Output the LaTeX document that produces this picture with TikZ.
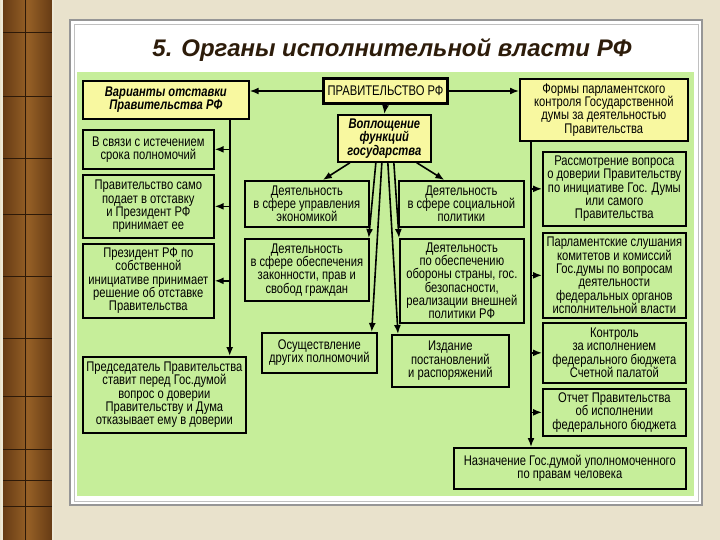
\documentclass[tikz,border=0pt]{standalone}
\usepackage{fontspec}
\setmainfont{Liberation Sans}
\newfontfamily\narrowfont{Liberation Sans}[FakeStretch=0.8]
\usetikzlibrary{calc}
\usetikzlibrary{positioning}
\usetikzlibrary{arrows.meta}
\definecolor{slidebg}{RGB}{233,226,204}
\definecolor{woodbrown}{RGB}{100,58,20}
\definecolor{woodlight}{RGB}{150,96,38}
\definecolor{wooddark}{RGB}{45,25,8}
\definecolor{panelline}{RGB}{150,150,150}
\definecolor{chartgreen}{RGB}{198,238,154}
\definecolor{headyellow}{RGB}{248,248,160}
\definecolor{titlebrown}{RGB}{45,28,10}
\tikzset{
	>={Latex[length=9pt,width=7pt]},
	gbox/.style={
		rectangle,
		draw=black, line width=1.7pt,
		fill=chartgreen,
		align=center,
		inner sep=2pt,
		anchor=north west,
		font=\narrowfont\fontsize{14}{13.3}\selectfont},
	ybox/.style={gbox, fill=headyellow},
	hbox/.style={ybox, font=\narrowfont\bfseries\itshape\fontsize{14}{13.3}\selectfont},
	line/.style={draw, line width=1.6pt, ->},
}
\begin{document}
\begin{tikzpicture}[x=1pt, y=-1pt]
	\useasboundingbox (0,0) rectangle (720,540);
	\fill[slidebg] (0,0) rectangle (720,540);
	% wood strip
	\shade[left color=woodbrown, right color=woodbrown, middle color=woodlight] (2,0) rectangle (53,540);
	\draw[wooddark, line width=1pt] (25,0) -- (25,540);
	\foreach \y in {32,96,158,214,276,338,396,449,480,506}
		\draw[wooddark, line width=0.8pt] (2,\y) -- (53,\y);
	\draw[slidebg!80!white, line width=1.5pt] (2,-1) -- (2,541) (53,-1) -- (53,541);
	% slide panel
	\draw[panelline, line width=1.2pt, fill=white] (70,20) rectangle (702,505);
	\draw[panelline!60, line width=0.6pt] (74,24) rectangle (698,501);
	\fill[chartgreen] (77,72) rectangle (694,496);
	\node[font=\bfseries\itshape\fontsize{24}{24}\selectfont, text=titlebrown] (title) at (392,50) {5. Органы исполнительной власти РФ};

	\node[hbox, minimum width=166pt, minimum height=38pt] (otst) at (82,80) {Варианты отставки\\Правительства РФ};
	\node[ybox, line width=3pt, minimum width=124pt, minimum height=25pt] (prav) at (322,77) {ПРАВИТЕЛЬСТВО РФ};
	\node[ybox, minimum width=168pt, minimum height=62pt] (formy) at (519,78) {Формы парламентского\\контроля Государственной\\думы за деятельностью\\Правительства};
	\node[hbox, minimum width=93pt, minimum height=47pt] (vopl) at (337,114) {Воплощение\\функций\\государства};

	\node[gbox, minimum width=131pt, minimum height=39pt] (srok) at (82,129) {В связи с истечением\\срока полномочий};
	\node[gbox, minimum width=131pt, minimum height=63pt] (sama) at (82,174) {Правительство само\\подает в отставку\\и Президент РФ\\принимает ее};
	\node[gbox, minimum width=131pt, minimum height=74pt] (prez) at (82,243) {Президент РФ по\\собственной\\инициативе принимает\\решение об отставке\\Правительства};
	\node[gbox, minimum width=163pt, minimum height=76pt] (pred) at (82,356) {Председатель Правительства\\ставит перед Гос.думой\\вопрос о доверии\\Правительству и Дума\\отказывает ему в доверии};

	\node[gbox, minimum width=124pt, minimum height=46pt] (econ) at (244,180) {Деятельность\\в сфере управления\\экономикой};
	\node[gbox, minimum width=125pt, minimum height=46pt] (soc) at (398,180) {Деятельность\\в сфере социальной\\политики};
	\node[gbox, minimum width=124pt, minimum height=62pt] (zakon) at (244,238) {Деятельность\\в сфере обеспечения\\законности, прав и\\свобод граждан};
	\node[gbox, minimum width=124pt, minimum height=84pt] (oboron) at (399,238) {Деятельность\\по обеспечению\\обороны страны, гос.\\безопасности,\\реализации внешней\\политики РФ};
	\node[gbox, minimum width=115pt, minimum height=40pt] (osush) at (261,332) {Осуществление\\других полномочий};
	\node[gbox, minimum width=117pt, minimum height=52pt] (izdan) at (391,334) {Издание\\постановлений\\и распоряжений};

	\node[gbox, minimum width=143pt, minimum height=74pt] (rassm) at (542,151) {Рассмотрение вопроса\\о доверии Правительству\\по инициативе Гос. Думы\\или самого\\Правительства};
	\node[gbox, minimum width=143pt, minimum height=85pt] (slush) at (542,232) {Парламентские слушания\\комитетов и комиссий\\Гос.думы по вопросам\\деятельности\\федеральных органов\\исполнительной власти};
	\node[gbox, minimum width=143pt, minimum height=60pt] (kontr) at (542,322) {Контроль\\за исполнением\\федерального бюджета\\Счетной палатой};
	\node[gbox, minimum width=143pt, minimum height=47pt] (otchet) at (542,388) {Отчет Правительства\\об исполнении\\федерального бюджета};
	\node[gbox, minimum width=232pt, minimum height=41pt] (nazn) at (453,447) {Назначение Гос.думой уполномоченного\\по правам человека};

	\draw[line] (prav.west) -- (prav.west -| otst.east);
	\draw[line] (prav.east) -- (prav.east -| formy.west);
	\draw[line] (prav.south) -- (vopl.north);
	\draw[line] ($(vopl.south west)+(13,0)$) -- ($(econ.north)+(16,0)$);
	\draw[line] ($(vopl.south east)+(-15,0)$) -- ($(soc.north)+(-17,0)$);
	\draw[line] ($(vopl.south)+(-8.5,0)$) -- ($(zakon.north east)+(-1,0)$);
	\draw[line] ($(vopl.south)+(-2.5,0)$) -- ($(osush.north east)+(-6,0)$);
	\draw[line] ($(vopl.south)+(3.5,0)$) -- ($(izdan.north west)+(7,0)$);
	\draw[line] ($(vopl.south)+(9.5,0)$) -- ($(oboron.north west)+(0,0)$);

	\coordinate (lv) at ($(otst.south east)+(-20,0)$);
	\draw[line] (lv) -- (lv |- pred.north);
	\foreach \n in {srok,sama,prez}
		\draw[line] (lv |- \n.east) -- (\n.east);

	\coordinate (rv) at ($(formy.south west)+(12,0)$);
	\draw[line] (rv) -- (rv |- nazn.north);
	\foreach \n in {rassm,slush,kontr,otchet}
		\draw[line] (rv |- \n.west) -- (\n.west);
\end{tikzpicture}
\end{document}
